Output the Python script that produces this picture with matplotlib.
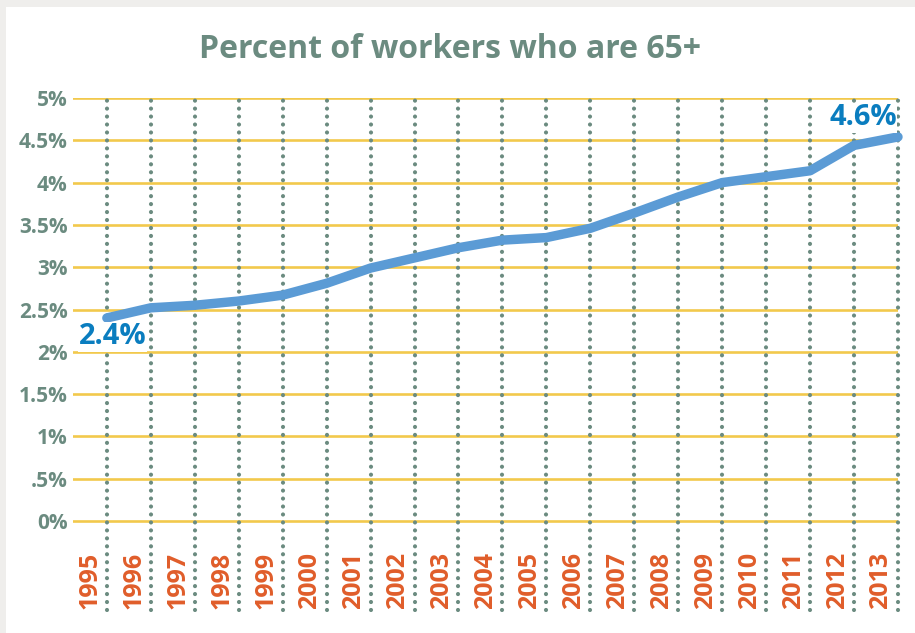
import matplotlib
matplotlib.use("Agg")
import matplotlib.pyplot as plt
from matplotlib.patches import Rectangle

# data
years = list(range(1995, 2014))
share = [2.40, 2.52, 2.55, 2.60, 2.67, 2.81, 2.99, 3.11, 3.23, 3.32,
         3.35, 3.46, 3.64, 3.83, 4.00, 4.07, 4.14, 4.44, 4.54]
ytick_vals = [0, 0.5, 1, 1.5, 2, 2.5, 3, 3.5, 4, 4.5, 5]
ytick_labels = ["0%", ".5%", "1%", "1.5%", "2%", "2.5%", "3%", "3.5%", "4%", "4.5%", "5%"]
end_labels = ["2.4%", "4.6%"]
title = "Percent of workers who are 65+"

plt.rcParams['font.family'] = ['Open Sans', 'DejaVu Sans']

grey_green = '#6B8B80'
gold = '#F2C94C'
orange = '#E05D2A'
blue_line = '#5B9BD5'
blue_text = '#0A7DBF'

fig = plt.figure(figsize=(9.15, 6.33), dpi=100)
fig.patch.set_facecolor('#EFEEEC')
fig.add_artist(Rectangle((6 / 915, 0), 1, (633 - 7) / 633, transform=fig.transFigure,
                         facecolor='white', edgecolor='none', zorder=-1))

ax = fig.add_axes([73 / 915, 23 / 633, (898 - 73) / 915, (610 - 98) / 633])
ax.set_facecolor('none')
ax.set_xlim(1994.23, 2013)
ax.set_ylim(-1.052, 5)
for s in ax.spines.values():
    s.set_visible(False)

# horizontal gold gridlines
for v in ytick_vals:
    ax.axhline(v, color=gold, lw=1.9, zorder=1)

# vertical dotted gridlines
for y in years:
    ax.axvline(y, color=grey_green, lw=3.0, linestyle=(0, (0.01, 1.9)),
               dash_capstyle='round', zorder=2, clip_on=False)

ax.plot(years, share, color=blue_line, lw=6.8, solid_capstyle='round',
        solid_joinstyle='round', zorder=3, clip_on=False)

# y axis
ax.set_yticks(ytick_vals)
ax.set_yticklabels(ytick_labels, fontsize=15, fontweight='bold', color=grey_green)
ax.tick_params(axis='y', length=0, pad=4)
ax.set_xticks([])

# year labels sit just left of each gridline
for y in years:
    ax.annotate(str(y), xy=(y, 0), xycoords=('data', 'axes fraction'),
                xytext=(-17, 1), textcoords='offset pixels', rotation=90,
                ha='center', va='bottom', fontsize=18, fontweight='bold', color=orange)

box = dict(facecolor='white', edgecolor='none', pad=0.5)
ax.annotate(end_labels[0], xy=(years[0], share[0]), xytext=(6, -19),
            textcoords='offset pixels', ha='center', va='center',
            fontsize=21, fontweight='bold', color=blue_text, zorder=4, bbox=box)
ax.annotate(end_labels[1], xy=(years[-1], share[-1]), xytext=(-35, 19),
            textcoords='offset pixels', ha='center', va='center',
            fontsize=21, fontweight='bold', color=blue_text, zorder=4, bbox=box)

fig.text(450 / 915, 1 - 50 / 633, title, ha='center', va='center',
         fontsize=23, fontweight='bold', color=grey_green)

fig.savefig('out.png', dpi=100)
